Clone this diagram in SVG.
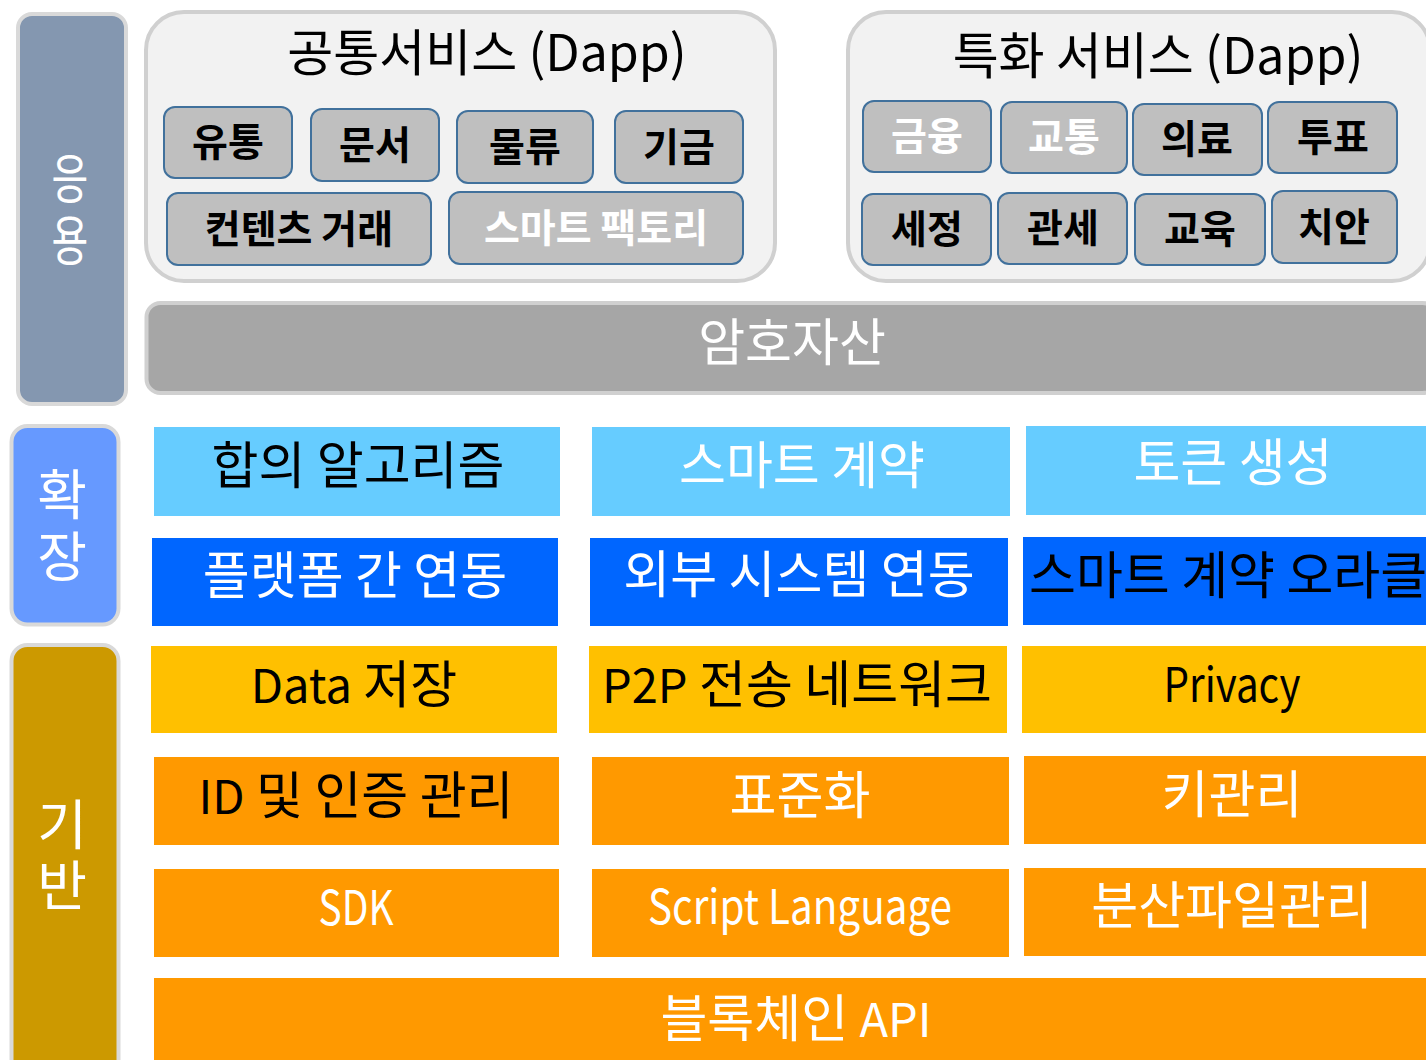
<svg xmlns="http://www.w3.org/2000/svg" width="1426" height="1060" viewBox="0 0 1426 1060">
<style>
text{font-family:"Noto Sans CJK KR","Noto Sans",sans-serif;}
.side{stroke:#d9d9d9;stroke-width:4;}
.panel{fill:#f2f2f2;stroke:#d0d0d0;stroke-width:4;}
.btn{fill:#bfbfbf;stroke:#41719c;stroke-width:2;}
.bt{font-size:39px;font-weight:bold;text-anchor:middle;fill:#000;}
.bw{font-size:39px;font-weight:bold;text-anchor:middle;fill:#fff;}
.big{font-size:51px;text-anchor:middle;}
.lat{font-size:48px;text-anchor:middle;}
.sm{font-size:47px;}
.title{font-size:50px;text-anchor:middle;fill:#000;}
.vl{font-size:54px;text-anchor:middle;fill:#fff;writing-mode:vertical-rl;text-orientation:upright;letter-spacing:8px;}
.k{fill:#000;}
.w{fill:#fff;}
.lb{fill:#66ccff;}
.db{fill:#0066ff;}
.yl{fill:#ffc000;}
.or{fill:#ff9900;}
</style>
<rect width="1426" height="1060" fill="#ffffff"/>

<g id="side-app">
<rect class="side" x="18" y="14" width="108" height="390" rx="14" fill="#8497b0"/>
<g transform="translate(70,0) scale(0.74,1)"><text class="vl" x="0" y="213">응용</text></g>
</g>
<g id="side-ext">
<rect class="side" x="11.5" y="426" width="107" height="198.5" rx="16" fill="#6699ff"/>
<text class="vl" x="62" y="529">확장</text>
</g>
<g id="side-base">
<rect class="side" x="11.5" y="645" width="107" height="440" rx="16" fill="#cc9900"/>
<text class="vl" x="62" y="858" style="letter-spacing:7px">기반</text>
</g>

<g id="common-services">
<rect class="panel" x="146" y="12" width="629" height="269" rx="38"/>
<text class="title" x="487" y="71">공통서비스 (Dapp)</text>
<g id="n-yutong"><rect class="btn" x="164" y="107" width="128" height="71" rx="11"/><text class="bt" x="228" y="156">유통</text></g>
<g id="n-munseo"><rect class="btn" x="311" y="109" width="128" height="72" rx="11"/><text class="bt" x="375" y="159">문서</text></g>
<g id="n-mullyu"><rect class="btn" x="457" y="111" width="136" height="72" rx="11"/><text class="bt" x="525" y="161">물류</text></g>
<g id="n-gigeum"><rect class="btn" x="615" y="111" width="128" height="72" rx="11"/><text class="bt" x="679" y="161">기금</text></g>
<g id="n-content"><rect class="btn" x="167" y="193" width="264" height="72" rx="11"/><text class="bt" x="299" y="243">컨텐츠 거래</text></g>
<g id="n-factory"><rect class="btn" x="449" y="192" width="294" height="72" rx="11"/><text class="bw" x="596" y="242">스마트 팩토리</text></g>
</g>

<g id="special-services">
<rect class="panel" x="848" y="12" width="582" height="269" rx="38"/>
<text class="title" x="1158" y="74">특화 서비스 (Dapp)</text>
<g id="n-finance"><rect class="btn" x="863" y="101" width="128" height="71" rx="11"/><text class="bw" x="927" y="150">금융</text></g>
<g id="n-traffic"><rect class="btn" x="1001" y="102" width="126" height="71" rx="11"/><text class="bw" x="1064" y="151">교통</text></g>
<g id="n-medical"><rect class="btn" x="1133" y="104" width="129" height="71" rx="11"/><text class="bt" x="1197" y="153">의료</text></g>
<g id="n-vote"><rect class="btn" x="1268" y="102" width="129" height="71" rx="11"/><text class="bt" x="1333" y="151">투표</text></g>
<g id="n-tax"><rect class="btn" x="862" y="194" width="129" height="71" rx="11"/><text class="bt" x="927" y="243">세정</text></g>
<g id="n-customs"><rect class="btn" x="998" y="193" width="129" height="71" rx="11"/><text class="bt" x="1063" y="242">관세</text></g>
<g id="n-edu"><rect class="btn" x="1135" y="194" width="130" height="71" rx="11"/><text class="bt" x="1200" y="243">교육</text></g>
<g id="n-security"><rect class="btn" x="1272" y="191" width="125" height="72" rx="11"/><text class="bt" x="1334" y="241">치안</text></g>
</g>

<g id="crypto-asset">
<rect class="side" x="146.5" y="303" width="1290" height="90" rx="14" fill="#a6a6a6" style="stroke:#d0d0d0"/>
<text class="big w" x="792" y="361">암호자산</text>
</g>

<g id="n-consensus"><rect class="lb" x="154" y="427" width="406" height="89"/><text class="big k" x="358" y="484">합의 알고리즘</text></g>
<g id="n-smart-contract"><rect class="lb" x="592" y="427" width="418" height="89"/><text class="big w" x="802" y="484">스마트 계약</text></g>
<g id="n-token"><rect class="lb" x="1026" y="426" width="400" height="89"/><text class="big w" x="1233" y="481">토큰 생성</text></g>

<g id="n-interplatform"><rect class="db" x="152" y="538" width="406" height="88"/><text class="big w" x="355" y="594">플랫폼 간 연동</text></g>
<g id="n-external"><rect class="db" x="590" y="538" width="418" height="88"/><text class="big w" x="799" y="593">외부 시스템 연동</text></g>
<g id="n-oracle"><rect class="db" x="1023" y="537" width="403" height="88"/><text class="big k" x="1029" y="594" style="text-anchor:start">스마트 계약 오라클</text></g>

<g id="n-data"><rect class="yl" x="151" y="646" width="406" height="87"/><text class="big k" x="354" y="703"><tspan class="sm">Data</tspan> 저장</text></g>
<g id="n-p2p"><rect class="yl" x="589" y="646" width="418" height="87"/><text class="big k" x="797" y="703"><tspan class="sm">P2P</tspan> 전송 네트워크</text></g>
<g id="n-privacy"><rect class="yl" x="1022" y="646" width="404" height="87"/><text class="lat k" x="1232" y="702" textLength="137" lengthAdjust="spacingAndGlyphs">Privacy</text></g>

<g id="n-id"><rect class="or" x="154" y="757" width="405" height="88"/><text class="big k" x="356" y="814"><tspan class="sm">ID</tspan> 및 인증 관리</text></g>
<g id="n-standard"><rect class="or" x="592" y="757" width="417" height="88"/><text class="big w" x="800" y="814">표준화</text></g>
<g id="n-key"><rect class="or" x="1024" y="756" width="402" height="88"/><text class="big w" x="1232" y="813">키관리</text></g>

<g id="n-sdk"><rect class="or" x="154" y="869" width="405" height="88"/><text class="lat w" x="356" y="925" textLength="75" lengthAdjust="spacingAndGlyphs">SDK</text></g>
<g id="n-script"><rect class="or" x="592" y="869" width="417" height="88"/><text class="lat w" x="800" y="924" textLength="304" lengthAdjust="spacingAndGlyphs">Script Language</text></g>
<g id="n-dfs"><rect class="or" x="1024" y="868" width="402" height="88"/><text class="big w" x="1232" y="924">분산파일관리</text></g>

<g id="n-api"><rect class="or" x="154" y="978" width="1272" height="82"/><text class="big w" x="796" y="1037">블록체인 <tspan class="sm">API</tspan></text></g>

<g id="connectors"></g>
</svg>
